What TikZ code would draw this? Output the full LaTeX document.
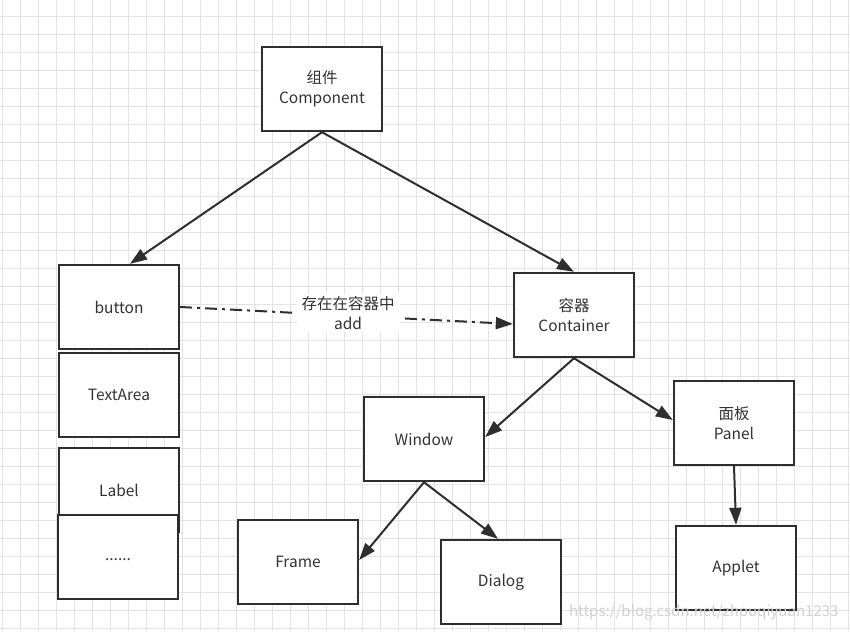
\documentclass[tikz,border=0pt]{standalone}
\usepackage{fontspec}
\setmainfont{Noto Sans CJK SC}
\usepackage{xcolor}
\usetikzlibrary{arrows.meta}

\definecolor{boxline}{HTML}{2E2E2E}
\definecolor{gridgray}{HTML}{E3E3E3}

\tikzset{
	classbox/.style={draw=boxline,line width=2.4pt,fill=white,minimum width=120pt,minimum height=84pt,inner sep=2pt,align=center,font=\fontsize{15.5}{20}\selectfont,text=black!80},
	inherit/.style={draw=boxline,line width=2pt,-{Triangle[length=17pt,width=12pt]}},
	addline/.style={draw=boxline,line width=2pt,dash pattern=on 12pt off 5pt on 3pt off 5pt,-{Triangle[length=17pt,width=12pt]}},
	gridline/.style={draw=gridgray,line width=0.8pt}
}

\begin{document}
\begin{tikzpicture}[x=1pt,y=-1pt]
			\useasboundingbox (0,0) rectangle (850,631);
			\fill[white] (0,0) rectangle (850,631);
			\foreach \gx in {2,20,...,848}
				\draw[gridline] (\gx,0) -- (\gx,631);
			\foreach \gy in {16,34,...,630}
				\draw[gridline] (0,\gy) -- (850,\gy);

			\node[classbox] (comp) at (322,89) {组件\\Component};
			\node[classbox] (btn) at (119,307) {button};
			\node[classbox] (text) at (119,395) {TextArea};
			\node[classbox] (lbl) at (119,490) {Label};
			\node[classbox] (more) at (118,557) {\raisebox{-7pt}{......}};
			\node[classbox] (cont) at (574,315) {容器\\Container};
			\node[classbox] (win) at (424,439) {Window};
			\node[classbox] (panel) at (734,423) {面板\\Panel};
			\node[classbox] (frame) at (298,562) {Frame};
			\node[classbox] (dialog) at (501,582) {Dialog};
			\node[classbox] (applet) at (736,568) {Applet};

			\draw[inherit] (comp.south) -- ([xshift=11pt]btn.north);
			\draw[inherit] (comp.south) -- (cont.north);
			\draw[inherit] (cont.south) -- ([yshift=2pt]win.east);
			\draw[inherit] (cont.south) -- ([yshift=3pt]panel.west);
			\draw[inherit] (win.south) -- ([yshift=2pt]frame.east);
			\draw[inherit] (win.south) -- ([xshift=-3pt]dialog.north);
			\draw[inherit] (panel.south) -- (applet.north);

			\draw[addline] (btn.east) -- ([yshift=-9pt]cont.west);
			\node[fill=white,inner xsep=5pt,inner ysep=2pt,align=center,font=\fontsize{15.5}{20}\selectfont,text=black!80] (addlabel) at (348,313) {存在在容器中\\add};

			\node[anchor=east,text=black!18,font=\fontsize{15}{18}\selectfont] (mark) at (842,612) {https://blog.csdn.net/zhouqiyuan1233};
		\end{tikzpicture}
\end{document}
